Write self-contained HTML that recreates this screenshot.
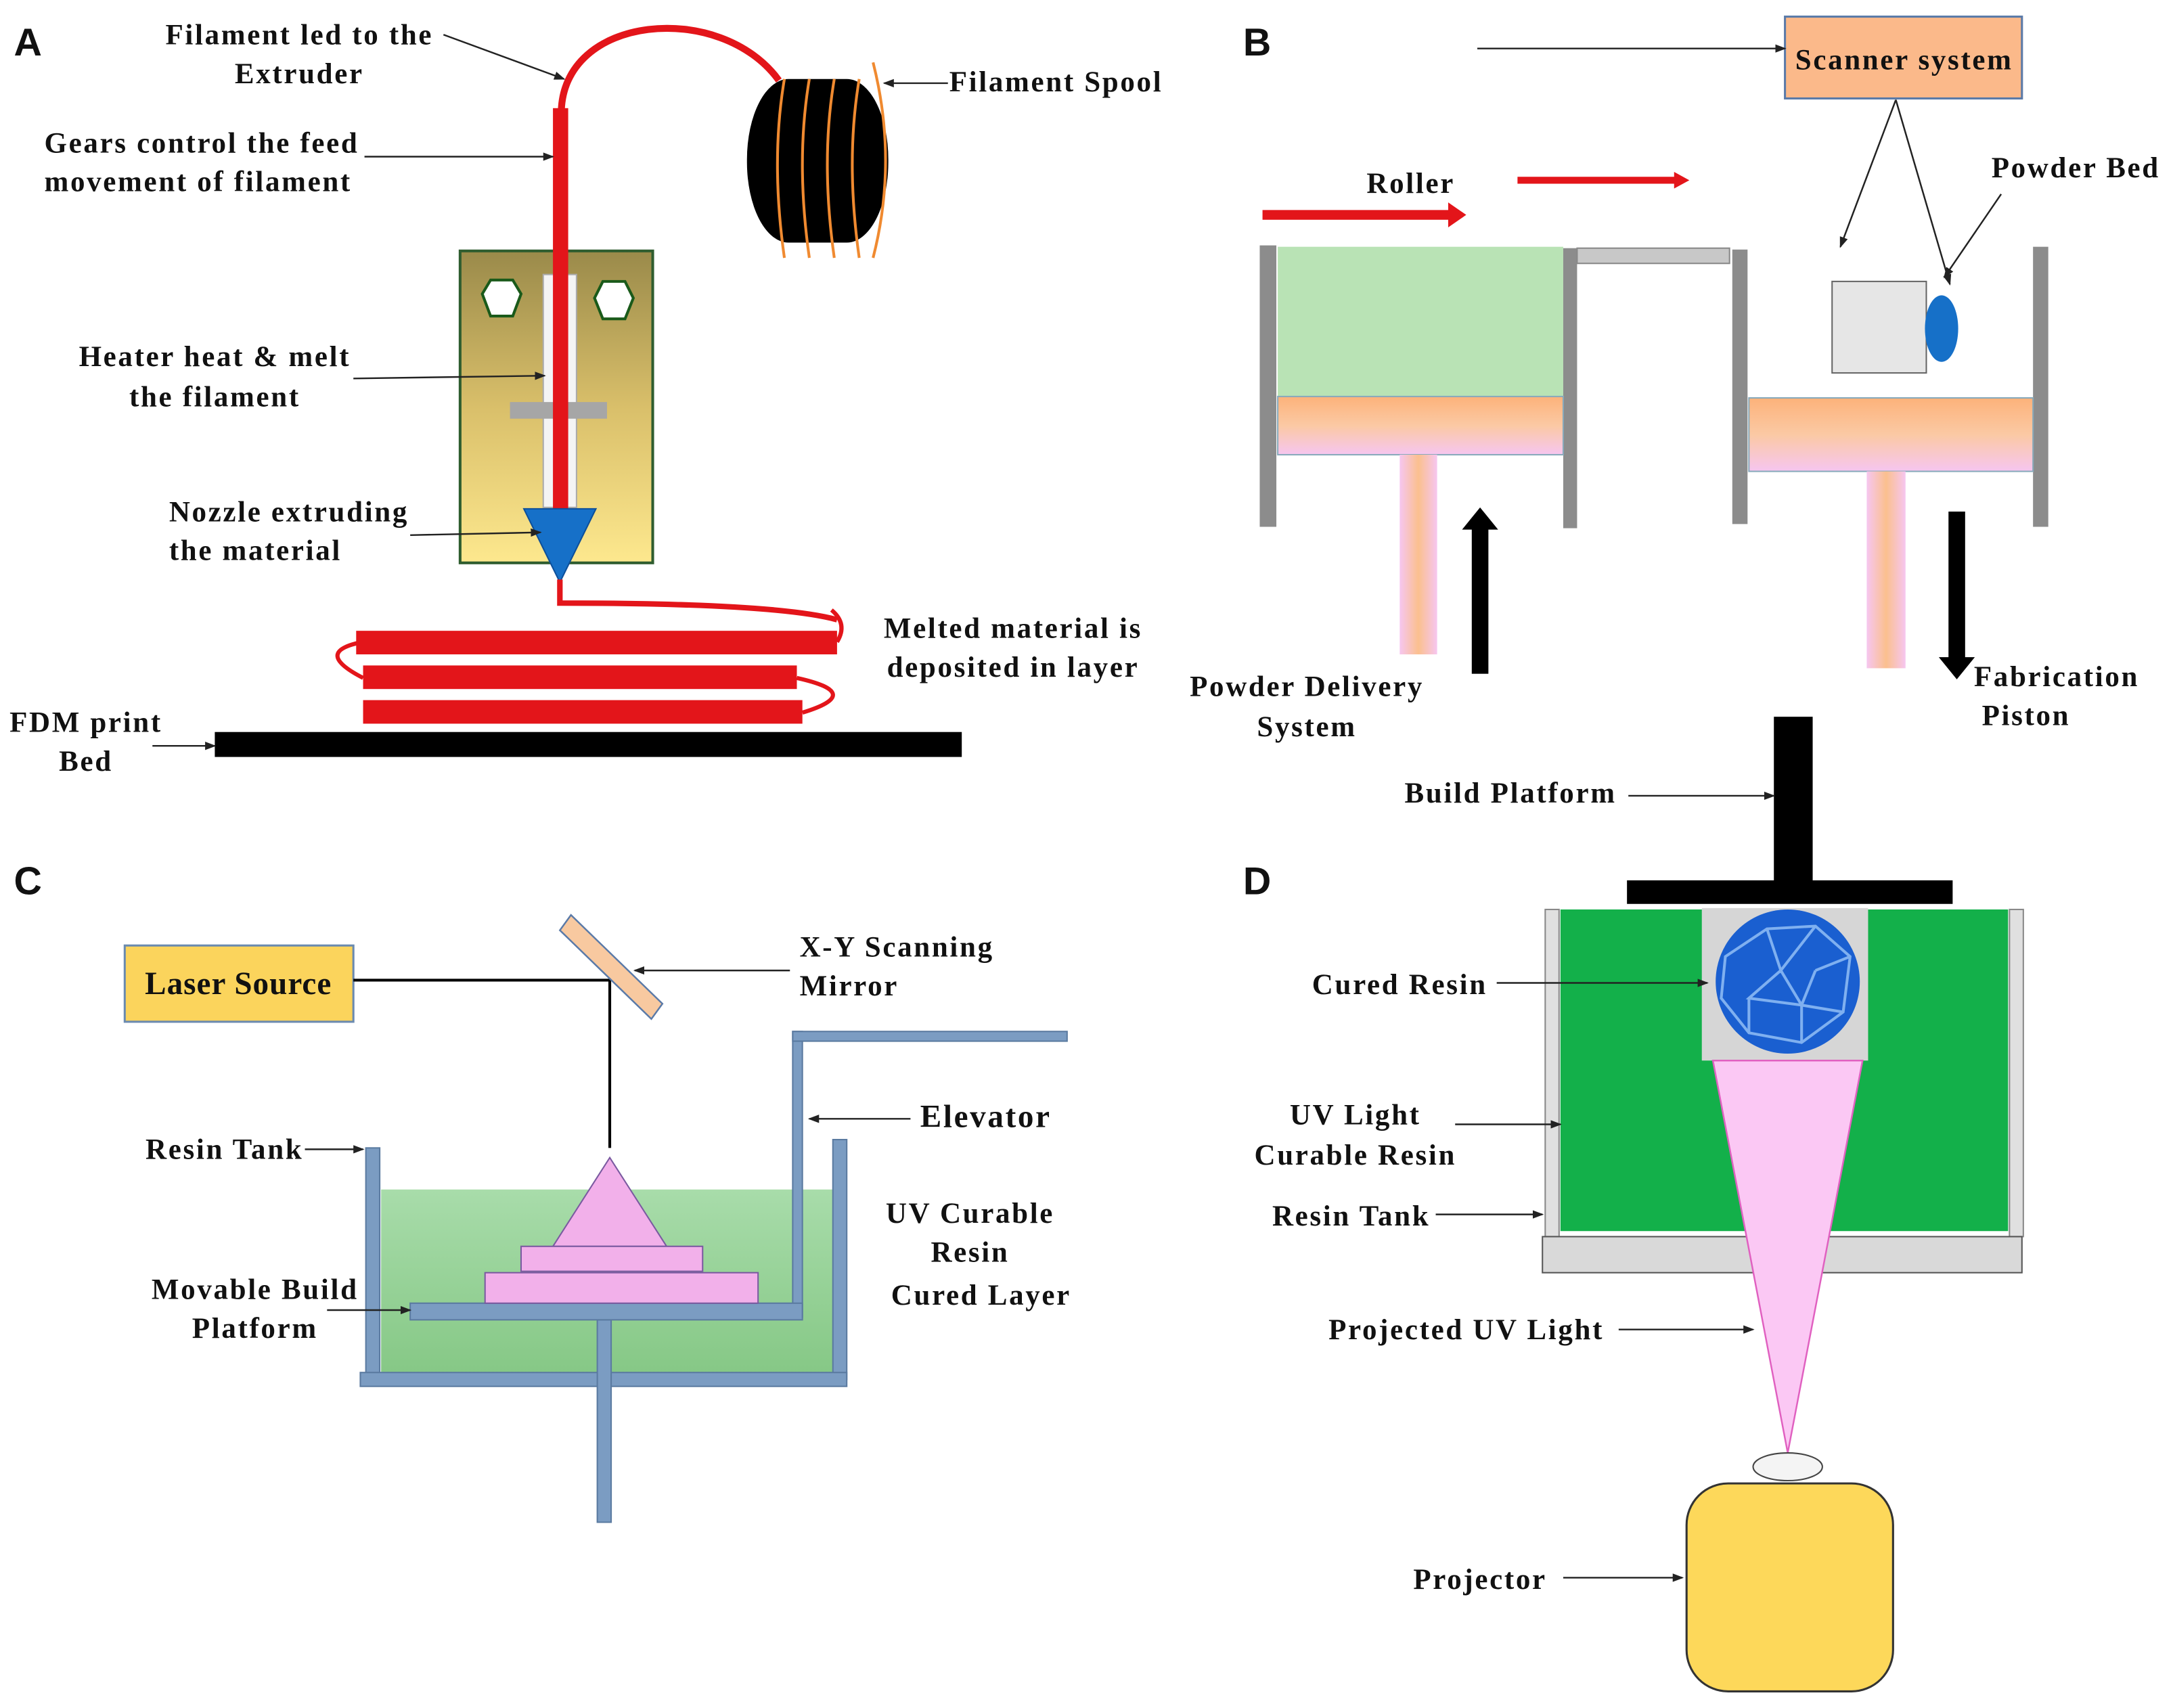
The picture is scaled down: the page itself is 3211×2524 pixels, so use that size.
<!DOCTYPE html>
<html><head><meta charset="utf-8"><style>
html,body{margin:0;padding:0;background:#fff;}
svg{display:block;}
.t{font-family:"Liberation Serif",serif;font-weight:bold;font-size:21px;letter-spacing:1.3px;fill:#111;}
.L{font-family:"Liberation Sans",sans-serif;font-weight:bold;font-size:28px;fill:#111;}
.a{stroke:#222;stroke-width:1.2;fill:none;marker-end:url(#ah);}
</style></head><body>
<svg width="3211" height="2524" viewBox="0 0 1568 1232" preserveAspectRatio="none" xmlns="http://www.w3.org/2000/svg">
<defs>
<marker id="ah" markerWidth="8" markerHeight="8" refX="7" refY="4" orient="auto" markerUnits="userSpaceOnUse"><path d="M0,1 L8,4 L0,7 z" fill="#222"/></marker>
<linearGradient id="ext" x1="0" y1="0" x2="0" y2="1"><stop offset="0" stop-color="#9a8a4a"/><stop offset="0.5" stop-color="#d9bf6a"/><stop offset="1" stop-color="#fde88e"/></linearGradient>
<linearGradient id="pist" x1="0" y1="0" x2="0" y2="1"><stop offset="0" stop-color="#fcb27a"/><stop offset="0.5" stop-color="#fbc9a4"/><stop offset="1" stop-color="#f6c6f0"/></linearGradient>
<linearGradient id="stem" x1="0" y1="0" x2="1" y2="0"><stop offset="0" stop-color="#f6c6f0"/><stop offset="0.5" stop-color="#fbc08e"/><stop offset="1" stop-color="#f6c6f0"/></linearGradient>
<linearGradient id="tank" x1="0" y1="0" x2="0" y2="1"><stop offset="0" stop-color="#a8dcaa"/><stop offset="1" stop-color="#86c886"/></linearGradient>
</defs>

<!-- Panel A -->
<text class="L" x="10" y="40">A</text>
<path d="M405,82 C405,10 520,0 562,58" stroke="#e3151a" stroke-width="5" fill="none"/>
<rect x="539" y="57" width="102" height="118" rx="30" ry="58" fill="#000"/>
<g stroke="#f08a30" stroke-width="2" fill="none">
<path d="M566,57 Q556,116 566,186"/><path d="M584,57 Q574,116 584,186"/><path d="M602,57 Q592,116 602,186"/><path d="M620,57 Q610,116 620,186"/><path d="M630,45 Q648,116 630,186"/>
</g>
<rect x="332" y="181" width="139" height="225" fill="url(#ext)" stroke="#2f5d2f" stroke-width="2"/>
<polygon points="354,202 370,202 376,212 370,228 354,228 348,212" fill="#fff" stroke="#1a5a1a" stroke-width="2"/>
<polygon points="435,203 451,203 457,215 451,230 435,230 429,215" fill="#fff" stroke="#1a5a1a" stroke-width="2"/>
<rect x="392" y="198" width="24" height="168" fill="#f4f4f4" stroke="#aaa"/>
<rect x="368" y="290" width="70" height="12" fill="#a6a6a6"/>
<rect x="399" y="78" width="11" height="290" fill="#e3151a"/>
<polygon points="378,367 430,367 404,420" fill="#1670c8" stroke="#0d4f9a"/>
<path d="M404,418 L404,435 Q560,435 604,447" stroke="#e3151a" stroke-width="4" fill="none"/>
<g stroke="#e3151a" stroke-width="3" fill="none">
<path d="M600,440 Q612,450 604,463"/>
<path d="M262,463 Q225,470 262,489"/>
<path d="M575,489 Q625,500 579,514"/>
</g>
<rect x="257" y="455" width="347" height="17" fill="#e3151a"/>
<rect x="262" y="480" width="313" height="17" fill="#e3151a"/>
<rect x="262" y="505" width="317" height="17" fill="#e3151a"/>
<rect x="155" y="528" width="539" height="18" fill="#000"/>
<text class="t" x="216" y="32" text-anchor="middle">Filament led to the</text>
<text class="t" x="216" y="60" text-anchor="middle">Extruder</text>
<path class="a" d="M320,25 L407,57"/>
<text class="t" x="685" y="66">Filament Spool</text>
<path class="a" d="M684,60 L638,60"/>
<text class="t" x="32" y="110">Gears control the feed</text>
<text class="t" x="32" y="138">movement of filament</text>
<path class="a" d="M263,113 L399,113"/>
<text class="t" x="155" y="264" text-anchor="middle">Heater heat &amp; melt</text>
<text class="t" x="155" y="293" text-anchor="middle">the filament</text>
<path class="a" d="M255,273 L393,271"/>
<text class="t" x="122" y="376">Nozzle extruding</text>
<text class="t" x="122" y="404">the material</text>
<path class="a" d="M296,386 L390,384"/>
<text class="t" x="731" y="460" text-anchor="middle">Melted material is</text>
<text class="t" x="731" y="488" text-anchor="middle">deposited in layer</text>
<text class="t" x="62" y="528" text-anchor="middle">FDM print</text>
<text class="t" x="62" y="556" text-anchor="middle">Bed</text>
<path class="a" d="M110,538 L155,538"/>

<!-- Panel B -->
<text class="L" x="897" y="40">B</text>
<rect x="1288" y="12" width="171" height="59" fill="#fbb98a" stroke="#5a7aa8" stroke-width="1.5"/>
<text class="t" x="1374" y="50" text-anchor="middle">Scanner system</text>
<path class="a" d="M1066,35 L1288,35"/>
<path class="a" d="M1368,72 L1328,178"/>
<path class="a" d="M1368,72 L1407,205"/>
<path class="a" d="M1444,140 L1403,200"/>
<text class="t" x="1437" y="128">Powder Bed</text>
<line x1="911" y1="155" x2="1047" y2="155" stroke="#e3151a" stroke-width="7"/><polygon points="1045,146 1058,155 1045,164" fill="#e3151a"/>
<line x1="1095" y1="130" x2="1210" y2="130" stroke="#e3151a" stroke-width="5"/><polygon points="1208,124 1219,130 1208,136" fill="#e3151a"/>
<text class="t" x="1018" y="139" text-anchor="middle">Roller</text>
<rect x="922" y="178" width="206" height="108" fill="#b9e3b5"/>
<rect x="909" y="177" width="12" height="203" fill="#8c8c8c"/>
<rect x="1128" y="179" width="10" height="202" fill="#8c8c8c"/>
<rect x="1138" y="179" width="110" height="11" fill="#c8c8c8" stroke="#888"/>
<rect x="922" y="286" width="206" height="42" fill="url(#pist)" stroke="#8ab" stroke-width="1"/>
<rect x="1010" y="328" width="27" height="144" fill="url(#stem)"/>
<rect x="1250" y="180" width="11" height="198" fill="#8c8c8c"/>
<rect x="1467" y="178" width="11" height="202" fill="#8c8c8c"/>
<rect x="1262" y="287" width="205" height="53" fill="url(#pist)" stroke="#8ab" stroke-width="1"/>
<rect x="1347" y="340" width="28" height="142" fill="url(#stem)"/>
<rect x="1322" y="203" width="68" height="66" fill="#e6e6e6" stroke="#666"/>
<ellipse cx="1401" cy="237" rx="12" ry="24" fill="#1670c8"/>
<rect x="1062" y="380" width="12" height="106" fill="#000"/><polygon points="1055,382 1068,366 1081,382" fill="#000"/>
<rect x="1406" y="369" width="12" height="106" fill="#000"/><polygon points="1399,474 1412,490 1425,474" fill="#000"/>
<text class="t" x="943" y="502" text-anchor="middle">Powder Delivery</text>
<text class="t" x="943" y="531" text-anchor="middle">System</text>
<text class="t" x="1484" y="495" text-anchor="middle">Fabrication</text>
<text class="t" x="1462" y="523" text-anchor="middle">Piston</text>

<!-- Panel C -->
<text class="L" x="10" y="645">C</text>
<rect x="90" y="682" width="165" height="55" fill="#fbd45c" stroke="#6a8ab0" stroke-width="1.5"/>
<text class="t" x="172" y="717" text-anchor="middle" style="font-size:23px;letter-spacing:0.5px">Laser Source</text>
<path d="M255,707 L440,707 L440,828" stroke="#000" stroke-width="2" fill="none"/>
<polygon points="404,671 412,660 478,724 470,735" fill="#f8c9a0" stroke="#5a7aa8" stroke-width="1.2"/>
<path class="a" d="M570,700 L458,700"/>
<text class="t" x="577" y="690">X-Y Scanning</text>
<text class="t" x="577" y="718">Mirror</text>
<rect x="275" y="858" width="326" height="132" fill="url(#tank)"/>
<g fill="#7b9cc2" stroke="#5a7aa0" stroke-width="1">
<rect x="264" y="828" width="10" height="167"/>
<rect x="601" y="822" width="10" height="173"/>
<rect x="260" y="990" width="351" height="10"/>
<rect x="431" y="952" width="10" height="146"/>
<rect x="572" y="744" width="7" height="206"/>
<rect x="572" y="744" width="198" height="7"/>
<rect x="296" y="940" width="283" height="12"/>
</g>
<polygon points="440,835 399,899 481,899" fill="#f2b0ea" stroke="#7a5aa0" stroke-width="1"/>
<rect x="376" y="899" width="131" height="18" fill="#f2b0ea" stroke="#7a5aa0" stroke-width="1"/>
<rect x="350" y="918" width="197" height="22" fill="#f2b0ea" stroke="#7a5aa0" stroke-width="1"/>
<text class="t" x="105" y="836">Resin Tank</text>
<path class="a" d="M220,829 L262,829"/>
<text class="t" x="664" y="813" style="font-size:23px">Elevator</text>
<path class="a" d="M657,807 L584,807"/>
<text class="t" x="700" y="882" text-anchor="middle">UV Curable</text>
<text class="t" x="700" y="910" text-anchor="middle">Resin</text>
<text class="t" x="708" y="941" text-anchor="middle">Cured Layer</text>
<text class="t" x="184" y="937" text-anchor="middle">Movable Build</text>
<text class="t" x="184" y="965" text-anchor="middle">Platform</text>
<path class="a" d="M236,945 L296,945"/>

<!-- Panel D -->
<text class="L" x="897" y="645">D</text>
<rect x="1280" y="517" width="28" height="120" fill="#000"/>
<rect x="1174" y="635" width="235" height="17" fill="#000"/>
<text class="t" x="1090" y="579" text-anchor="middle">Build Platform</text>
<path class="a" d="M1175,574 L1280,574"/>
<rect x="1115" y="656" width="10" height="236" fill="#e0e0e0" stroke="#888"/>
<rect x="1450" y="656" width="10" height="236" fill="#e0e0e0" stroke="#888"/>
<rect x="1126" y="656" width="323" height="232" fill="#13b04a"/>
<rect x="1113" y="892" width="346" height="26" fill="#d9d9d9" stroke="#555"/>
<rect x="1228" y="655" width="120" height="110" fill="#d6d6d6"/>
<circle cx="1290" cy="708" r="52" fill="#1a5fd0"/>
<g stroke="#7fb0f0" stroke-width="2" fill="none">
<path d="M1245,690 L1275,670 L1310,668 L1335,690 L1330,730 L1300,752 L1262,745 L1242,720 Z"/>
<path d="M1275,670 L1285,700 L1310,668 M1285,700 L1262,720 L1300,725 L1285,700 M1300,725 L1330,730 M1262,720 L1262,745 M1300,725 L1300,752 M1310,700 L1335,690 M1310,700 L1300,725"/>
</g>
<polygon points="1236,765 1344,765 1290,1048" fill="#fbc8f4" stroke="#e060c0" stroke-width="1.2"/>
<ellipse cx="1290" cy="1058" rx="25" ry="10" fill="#f4f4f4" stroke="#444"/>
<rect x="1217" y="1070" width="149" height="150" rx="30" fill="#fdd85a" stroke="#333" stroke-width="1.5"/>
<text class="t" x="1010" y="717" text-anchor="middle">Cured Resin</text>
<path class="a" d="M1080,709 L1232,709"/>
<text class="t" x="978" y="811" text-anchor="middle">UV Light</text>
<text class="t" x="978" y="840" text-anchor="middle">Curable Resin</text>
<path class="a" d="M1050,811 L1126,811"/>
<text class="t" x="975" y="884" text-anchor="middle">Resin Tank</text>
<path class="a" d="M1036,876 L1113,876"/>
<text class="t" x="1058" y="966" text-anchor="middle">Projected UV Light</text>
<path class="a" d="M1168,959 L1265,959"/>
<text class="t" x="1068" y="1146" text-anchor="middle">Projector</text>
<path class="a" d="M1128,1138 L1214,1138"/>
</svg>
</body></html>
